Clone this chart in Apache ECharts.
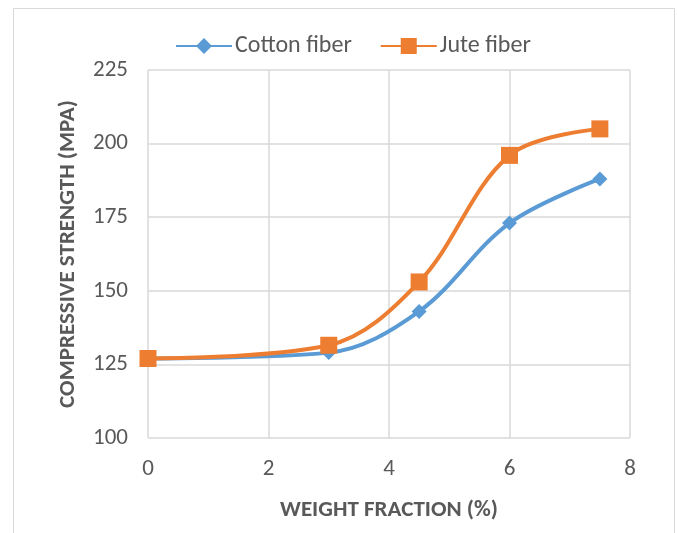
<!DOCTYPE html>
<html><head><meta charset="utf-8">
<script src="https://cdn.jsdelivr.net/npm/echarts@6/dist/echarts.min.js"></script>
<style>html,body{margin:0;padding:0;background:#fff}#c{width:677px;height:533px}</style>
</head><body><div id="c"></div>
<script>
const weightFraction = [0, 3, 4.5, 6, 7.5];
const cottonFiber = [127, 129, 143, 173, 188];
const juteFiber = [127, 131.5, 153, 196, 205];
const seriesNames = ['Cotton fiber', 'Jute fiber'];

const chart = echarts.init(document.getElementById('c'));
const font = 'Calibri, Carlito, "Open Sans", "DejaVu Sans", sans-serif';
chart.setOption({
  animation: false,
  backgroundColor: '#fff',
  graphic: [{type:'rect', shape:{x:13.5,y:8.5,width:661,height:540}, style:{fill:'none', stroke:'#d9d9d9', lineWidth:1}, silent:true}],
  legend: {
    top: 29, left: 170, itemGap: 28, itemWidth: 56, itemHeight: 20,
    textStyle: {fontSize: 24, color: '#595959', fontFamily: font, padding: [0,0,0,-2]},
    data: seriesNames
  },
  grid: {left: 148, right: 47, top: 70, bottom: 95},
  xAxis: {
    type: 'value', min: 0, max: 8, interval: 2,
    name: 'WEIGHT FRACTION (%)', nameLocation: 'middle', nameGap: 61,
    nameTextStyle: {fontSize: 23, fontWeight: 'bold', color: '#595959', fontFamily: font},
    axisLine: {show: false}, axisTick: {show: false},
    axisLabel: {fontSize: 23, color: '#595959', margin: 20, fontFamily: font},
    splitLine: {lineStyle: {color: '#d9d9d9', width: 1.5}}
  },
  yAxis: {
    type: 'value', min: 100, max: 225, interval: 25,
    name: 'COMPRESSIVE STRENGTH (MPA)', nameLocation: 'middle', nameGap: 68,
    nameTextStyle: {fontSize: 23, fontWeight: 'bold', color: '#595959', fontFamily: font},
    axisLine: {show: false}, axisTick: {show: false},
    axisLabel: {fontSize: 23, color: '#595959', margin: 20, fontFamily: font},
    splitLine: {lineStyle: {color: '#d9d9d9', width: 1.5}}
  },
  series: [
    {name: seriesNames[0], type: 'line', smooth: 0.35,
     data: weightFraction.map((x,i)=>[x, cottonFiber[i]]),
     symbol: 'diamond', symbolSize: 15,
     lineStyle: {color: '#5B9BD5', width: 4}, itemStyle: {color: '#5B9BD5'}},
    {name: seriesNames[1], type: 'line', smooth: 0.35,
     data: weightFraction.map((x,i)=>[x, juteFiber[i]]),
     symbol: 'rect', symbolSize: 17,
     lineStyle: {color: '#ED7D31', width: 4}, itemStyle: {color: '#ED7D31'}}
  ]
});
</script></body></html>
